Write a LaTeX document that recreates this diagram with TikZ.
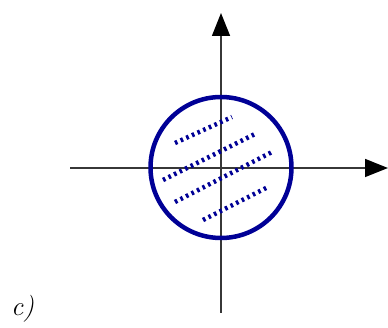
\documentclass[tikz,border=0pt]{standalone}
\usetikzlibrary{arrows.meta}
\definecolor{ringblue}{RGB}{0,0,150}
\definecolor{axisgray}{RGB}{55,55,55}
\tikzset{
  axis/.style={draw=axisgray, line width=1.5pt, -{Triangle[length=23pt,width=18pt,color=black]}},
  ring/.style={draw=ringblue, line width=4.5pt},
  hatch/.style={draw=ringblue, line width=4.5pt, dash pattern=on 2.6pt off 3.6pt},
  lbl/.style={font=\fontsize{27}{30}\selectfont\itshape, inner sep=0pt, anchor=base west}
}
\begin{document}
\begin{tikzpicture}[x=1pt,y=-1pt]
\useasboundingbox (0,0) rectangle (388,328);
% axes
\coordinate (vb) at (221,313);
\coordinate (vt) at (221,13);
\coordinate (hl) at (70,168);
\coordinate (hr) at (388,168);
\draw[axis] (vb) -- (vt);
\draw[axis] (hl) -- (hr);
% circle
\coordinate (c) at (221,167.5);
\draw[ring] (c) circle[radius=70.5];
% hatch strokes
\coordinate (a1) at (175,143); \coordinate (a2) at (232,117);
\coordinate (b1) at (163,180); \coordinate (b2) at (257,133);
\coordinate (c1) at (175,202); \coordinate (c2) at (272,152);
\coordinate (d1) at (203,220); \coordinate (d2) at (268,187);
\draw[hatch] (a1) -- (a2);
\draw[hatch] (b1) -- (b2);
\draw[hatch] (c1) -- (c2);
\draw[hatch] (d1) -- (d2);
% label
\node[lbl] (label) at (11,316) {c)};
\end{tikzpicture}
\end{document}
